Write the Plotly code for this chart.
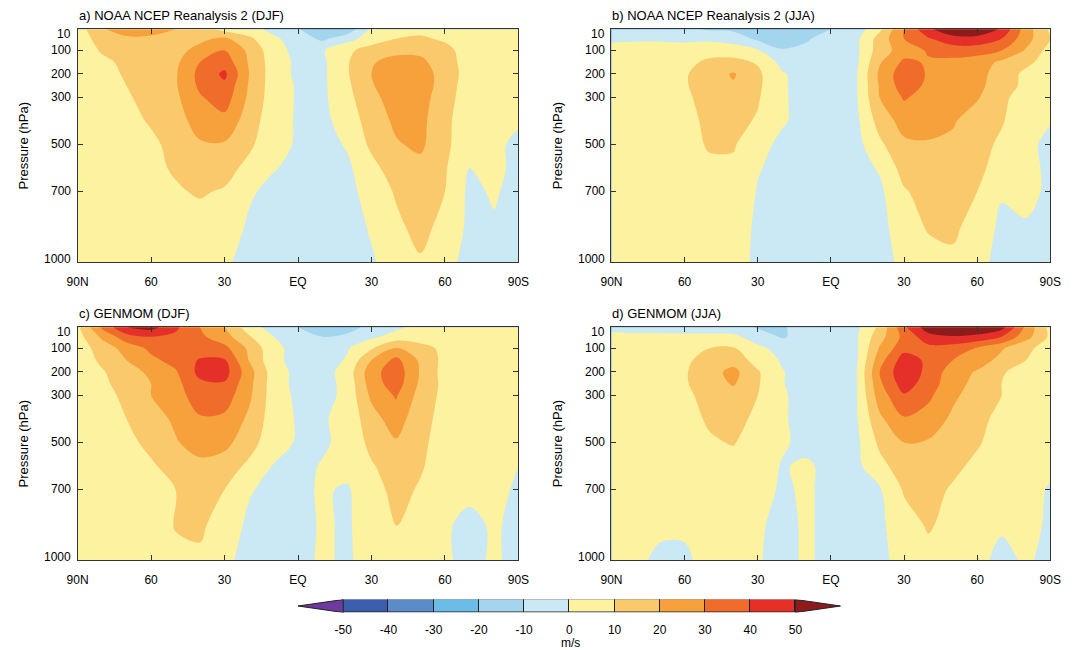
import numpy as np
import plotly.graph_objects as go

# ---------------- data ----------------
lats = [90, 80, 70, 60, 50, 40, 30, 20, 10, 0, -10, -20, -30, -40, -50, -60, -70, -80, -90]
pressure = [10, 50, 100, 150, 200, 250, 300, 400, 500, 600, 700, 850, 1000]

# zonal-mean zonal wind (m/s); rows = pressure levels, columns = lats (90N -> 90S)
ncep_djf = [
    [5, 19, 25, 24, 20, 13, 7, 4, -3, -9, -20, -17, 2, 6, 8, 8, 7, 5, 3],
    [5, 14, 18, 18, 17, 18, 22, 12, 2, -5, -12, -4, 5, 10, 11, 9, 7, 5, 3],
    [4, 11, 15, 15, 17, 23, 30, 18, 4, -3, -1, 8, 14, 17, 17, 12, 7, 5, 3],
    [3, 8, 12, 14, 18, 30, 36, 19, 5, -2, -2, 9, 19, 24, 23, 13, 7, 4, 3],
    [3, 7, 11, 14, 19, 33, 42, 20, 5, -2, -2, 9, 20, 27, 27, 14, 7, 4, 3],
    [3, 6, 10, 14, 19, 32, 38, 19, 5, -1, -2, 8, 19, 27, 27, 14, 6, 4, 3],
    [3, 5, 9, 13, 18, 29, 35, 18, 5, -1, -2, 7, 17, 25, 25, 13, 6, 4, 2],
    [2, 4, 7, 11, 16, 24, 27, 15, 4, -1, -3, 5, 14, 22, 23, 12, 5, 3, 0.5],
    [2, 3, 5, 8, 13, 19, 19, 12, 3, -1, -4, 1, 12, 19, 22, 12, 4, 1, -1],
    [1, 2, 4, 8, 11, 15, 14, 7, 0.5, -2, -5, -2, 7, 15, 17, 11, 0, 2, -2],
    [1, 1, 3, 6, 9, 11, 9, 1, -2, -3, -5, -3, 4, 11, 14, 10, -2, 1, -3],
    [1, 1, 2, 4, 6, 6, 4, -1, -3, -4, -5, -4, 1, 8, 13, 7, -2, -1, -3],
    [1, 1, 1, 2, 3, 3, 1, -2, -4, -3, -4, -3, -1, 4, 9, 2, -2, -1, -2],
]
ncep_jja = [
    [-3, -5, -6, -8, -11, -12, -16, -20, -15, -10, -6, 8, 30, 48, 58, 57, 49, 25, 8],
    [-1, -1, -1, -2, -2, -4, -12, -16, -11, -6, -3, 14, 30, 39, 46, 47, 40, 24, 10],
    [2, 3, 3, 4, 6, 5, 1, -9, -8, -4, -3, 15, 25, 31, 35, 34, 30, 19, 6],
    [3, 4, 5, 7, 12, 13, 9, -3, -4, -3, -3, 19, 32, 29, 27, 25, 18, 12, 6],
    [3, 4, 6, 9, 15, 21, 12, 1, -4, -3, -2, 22, 36, 29, 27, 24, 15, 8, 5],
    [3, 4, 6, 9, 15, 19, 12, 1, -3, -3, -2, 21, 35, 28, 26, 23, 14, 8, 4],
    [3, 4, 5, 8, 14, 16, 11, 1, -3, -3, -2, 20, 31, 26, 24, 21, 12, 6, 3],
    [2, 3, 5, 7, 12, 13, 9, 1, -3, -4, -3, 14, 24, 24, 21, 15, 11, 3, 0.5],
    [2, 3, 4, 6, 11, 11, 3, -2, -3, -4, -4, 8, 18, 19, 18, 14, 8, 2, -2],
    [2, 3, 4, 5, 8, 8, 0.5, -2, -3, -4, -4, 1, 14, 16, 17, 13, 5, 3, -2],
    [2, 2, 3, 4, 6, 6, -0.5, -3, -3, -4, -4, -2, 9, 14, 15, 10, 1, 3, -2],
    [2, 2, 2, 3, 4, 3, -1, -3, -2, -3, -4, -3, 5, 11, 12, 6, -2, -1, -2],
    [1, 1, 2, 2, 3, 2, -1, -3, -3, -2, -4, -3, 2, 6, 8, 2, -2, -1, -2],
]
genmom_djf = [
    [8, 32, 50, 54, 42, 30, 20, 5, -5, -10, -14, -14, -7, -2, 3, 6, 7, 5, 3],
    [6, 22, 36, 40, 38, 32, 24, 11, 0, -6, -10, -8, -2, 4, 6, 7, 6, 5, 3],
    [5, 14, 24, 32, 34, 35, 33, 18, 3, -4, -5, -1, 9, 21, 13, 8, 6, 4, 3],
    [4, 12, 20, 28, 33, 41, 41, 19.5, 3, -4, -5, 1, 20, 33, 18, 7, 6, 4, 3],
    [3, 9, 16, 22, 29, 43, 44, 24, 5, -3, -4, 4, 26, 36, 19, 6, 6, 4, 3],
    [3, 8, 14, 20, 27, 38, 39, 23, 5, -3, -4, 3, 25, 35, 18, 7, 6, 4, 3],
    [3, 7, 12, 20, 26, 35, 35, 22, 5, -2, -4, 3, 22, 31, 16, 7, 6, 4, 3],
    [2, 5, 10, 15, 22, 29, 28, 18, 5, -1, -1, 3, 16, 25, 13, 7, 5, 4, 2],
    [2, 4, 8, 12, 19, 25, 23, 14, 4, -1, -1, 2, 13, 19, 12, 6, 4, 3, 1],
    [2, 3, 6, 9, 13, 17, 15, 8, -0.5, -2, 0.5, 3, 9, 15, 11, 5, 3, 2, 0],
    [2, 3, 4, 7, 10, 13, 10, 1, -3, -2, 1, -1, 6, 13, 9, 4, 2, 2, -1],
    [1, 2, 3, 5, 10.5, 11.5, 6, -2, -4, -3, 1, -1, 4, 10.5, 6, 1, -2, 1, -2],
    [1, 2, 2, 4, 8, 8.5, 2, -3, -4, -2, 1, -1, 3, 6, 4, 1, -2, 1, -2],
]
genmom_jja = [
    [-2, -3, -3, -4, -4, -5, -11, -11, -6, -4, -3, 12, 38, 56, 62, 60, 54, 28, 6],
    [2, 2, 2, 2, 2, 2, -4, -11, -6, -3, -2, 16, 33, 46, 49, 47, 40, 24, 8],
    [3, 4, 5, 7, 10, 11, 2, -3, -4, -3, -3, 21, 37, 37, 35, 29, 21, 12, 6],
    [3, 4, 6, 8, 14, 16, 6, -1, -4, -3, -3, 26, 45, 38, 30, 25, 17, 10, 5],
    [3, 4, 6, 9, 16, 23, 11, 0.5, -4, -3, -2, 30, 48, 37, 25, 19, 11, 6, 4],
    [3, 4, 6, 9, 15, 21, 11, 0.5, -4, -3, -2, 28, 45, 35, 24, 17, 10, 5, 3],
    [3, 4, 6, 8, 13, 16, 10, 1, -3, -3, -2, 25, 39, 32, 22, 15, 10, 5, 3],
    [2, 3, 5, 7, 11, 13, 8, 1, -3, -3, -2, 18, 29, 26, 18, 12, 8, 4, 2],
    [2, 3, 4, 6, 9, 10.5, 6, 1, -2, -2, -3, 12, 20, 19, 14, 11, 6, 3, 1],
    [2, 3, 4, 5, 7, 7, 4, -0.5, 1, -2, -3, 7, 15, 15, 12, 8, 4, 2, 1],
    [2, 2, 3, 4, 5, 5, 3, -1, 1, -2, -3, -1, 11, 13, 9, 6, 3, 2, -0.5],
    [2, 2, 1, 1, 4, 4, 1, -2, 1, -2, -3, -2, 6, 11, 7, 3, 1, 2, -1],
    [1, 1, -1, -1, 2, 3, 0.5, -2, 1, -2, -3, -2, 3, 7, 5, 2, -2, 1, -2],
]

panel_titles = ["a) NOAA NCEP Reanalysis 2 (DJF)", "b) NOAA NCEP Reanalysis 2 (JJA)",
                "c) GENMOM (DJF)", "d) GENMOM (JJA)"]
x_ticks = [90, 60, 30, 0, -30, -60, -90]
x_labels = ["90N", "60", "30", "EQ", "30", "60", "90S"]
p_ticks = [10, 100, 200, 300, 500, 700, 1000]
levels = [-50, -40, -30, -20, -10, 0, 10, 20, 30, 40, 50]
level_labels = ["-50", "-40", "-30", "-20", "-10", "0", "10", "20", "30", "40", "50"]
level_colors = ["#6e3aa0", "#3b5fae", "#5a8cca", "#6cbce8", "#a3d6ee", "#cbe8f5",
                "#fcf29f", "#f9c96c", "#f6a13c", "#ef6c2a", "#e5302a", "#8e1b1b"]
cbar_label = "m/s"

# ---------------- layout geometry (pixels) ----------------
W, H = 1075, 650
panels_px = [(68, 518, 29.3, 262), (613, 1061, 29.3, 262),
             (68, 518, 327.3, 560), (613, 1061, 327.3, 560)]
FONT = "Liberation Sans, Arial, Helvetica, sans-serif"

def px_x(x):
    return x / W

def px_y(y):
    return 1 - y / H

lat_asc = np.array(lats[::-1])
colorscale = [[k / (len(level_colors) - 1), c] for k, c in enumerate(level_colors)]

fig = go.Figure()
layout = dict(width=W, height=H, margin=dict(l=0, r=0, t=0, b=0), autosize=False,
              paper_bgcolor="white", plot_bgcolor="white", showlegend=False,
              font=dict(family=FONT, size=12, color="#000"))
annotations = []

datasets = [ncep_djf, ncep_jja, genmom_djf, genmom_jja]
for i, (data, title, (x0, x1, y0, y1)) in enumerate(zip(datasets, panel_titles, panels_px)):
    n = "" if i == 0 else str(i + 1)
    z = np.array(data, dtype=float)[:, ::-1]
    fig.add_trace(go.Contour(
        x=lat_asc, y=pressure, z=z, xaxis="x" + n, yaxis="y" + n,
        autocontour=False,
        contours=dict(start=levels[0], end=levels[-1], size=levels[1] - levels[0],
                      coloring="fill", showlines=False),
        colorscale=colorscale, showscale=False,
        line=dict(width=0, smoothing=1.0), hoverinfo="skip"))
    layout["xaxis" + n] = dict(
        domain=[px_x(x0), px_x(x1)], anchor="y" + n, range=[90, -90],
        tickvals=x_ticks, ticktext=x_labels, ticks="inside", ticklen=5, tickwidth=1,
        tickcolor="#333", showline=True, linecolor="#333", linewidth=1, mirror="ticks",
        showgrid=False, zeroline=False, tickfont=dict(family=FONT, size=12, color="#000"),
        ticklabelstandoff=9)
    layout["yaxis" + n] = dict(
        domain=[px_y(y1), px_y(y0)], anchor="x" + n, range=[1000, 10],
        tickvals=p_ticks, showticklabels=False, ticks="inside", ticklen=5, tickwidth=1,
        tickcolor="#333", showline=True, linecolor="#333", linewidth=1, mirror="ticks",
        showgrid=False, zeroline=False)
    # panel title
    annotations.append(dict(text=title, xref="paper", yref="paper", x=px_x(x0 - 1),
                            y=px_y(y0 - 14), xanchor="left", yanchor="middle",
                            showarrow=False, font=dict(family=FONT, size=13, color="#000")))
    # pressure tick labels
    for p in p_ticks:
        shift = -5 if p == 10 else (3 if p == 1000 else 0)
        annotations.append(dict(text=str(p), xref="paper", yref="y" + n, x=px_x(x0 - 5),
                                y=p, yshift=shift, xanchor="right", yanchor="middle",
                                showarrow=False, font=dict(family=FONT, size=12, color="#000")))
    # y-axis title
    annotations.append(dict(text="Pressure (hPa)", xref="paper", yref="paper",
                            x=px_x(x0 - 55), y=px_y((y0 + y1) / 2), textangle=-90,
                            xanchor="center", yanchor="middle", showarrow=False,
                            font=dict(family=FONT, size=13, color="#000")))

# ---------------- colour bar (own small axis) ----------------
bin_centers = [(a + b) / 2 for a, b in zip(levels[:-1], levels[1:])]
fig.add_trace(go.Bar(x=bin_centers, y=[1] * len(bin_centers), base=0,
                     width=levels[1] - levels[0], marker=dict(color=level_colors[1:-1],
                     line=dict(color="#222", width=1)), xaxis="x5", yaxis="y5",
                     hoverinfo="skip"))
step = levels[1] - levels[0]
fig.add_trace(go.Scatter(x=[levels[0], levels[0] - step, levels[0], levels[0]], y=[0, 0.5, 1, 0],
                         fill="toself", fillcolor=level_colors[0], mode="lines",
                         line=dict(color="#222", width=1), xaxis="x5", yaxis="y5",
                         hoverinfo="skip"))
fig.add_trace(go.Scatter(x=[levels[-1], levels[-1] + step, levels[-1], levels[-1]], y=[0, 0.5, 1, 0],
                         fill="toself", fillcolor=level_colors[-1], mode="lines",
                         line=dict(color="#222", width=1), xaxis="x5", yaxis="y5",
                         hoverinfo="skip"))
layout["xaxis5"] = dict(domain=[px_x(293), px_x(847)], anchor="y5",
                        range=[levels[0] - step, levels[-1] + step],
                        tickvals=levels, ticktext=level_labels, ticks="", showline=False,
                        showgrid=False, zeroline=False,
                        tickfont=dict(family=FONT, size=12, color="#000"),
                        ticklabelstandoff=8)
layout["yaxis5"] = dict(domain=[px_y(612.5), px_y(599.5)], anchor="x5", range=[0, 1],
                        visible=False)
layout["bargap"] = 0
annotations.append(dict(text=cbar_label, xref="paper", yref="paper", x=px_x(571),
                        y=px_y(643), xanchor="center", yanchor="middle", showarrow=False,
                        font=dict(family=FONT, size=12, color="#000")))

layout["annotations"] = annotations
fig.update_layout(**layout)
fig.write_html("out.html")
